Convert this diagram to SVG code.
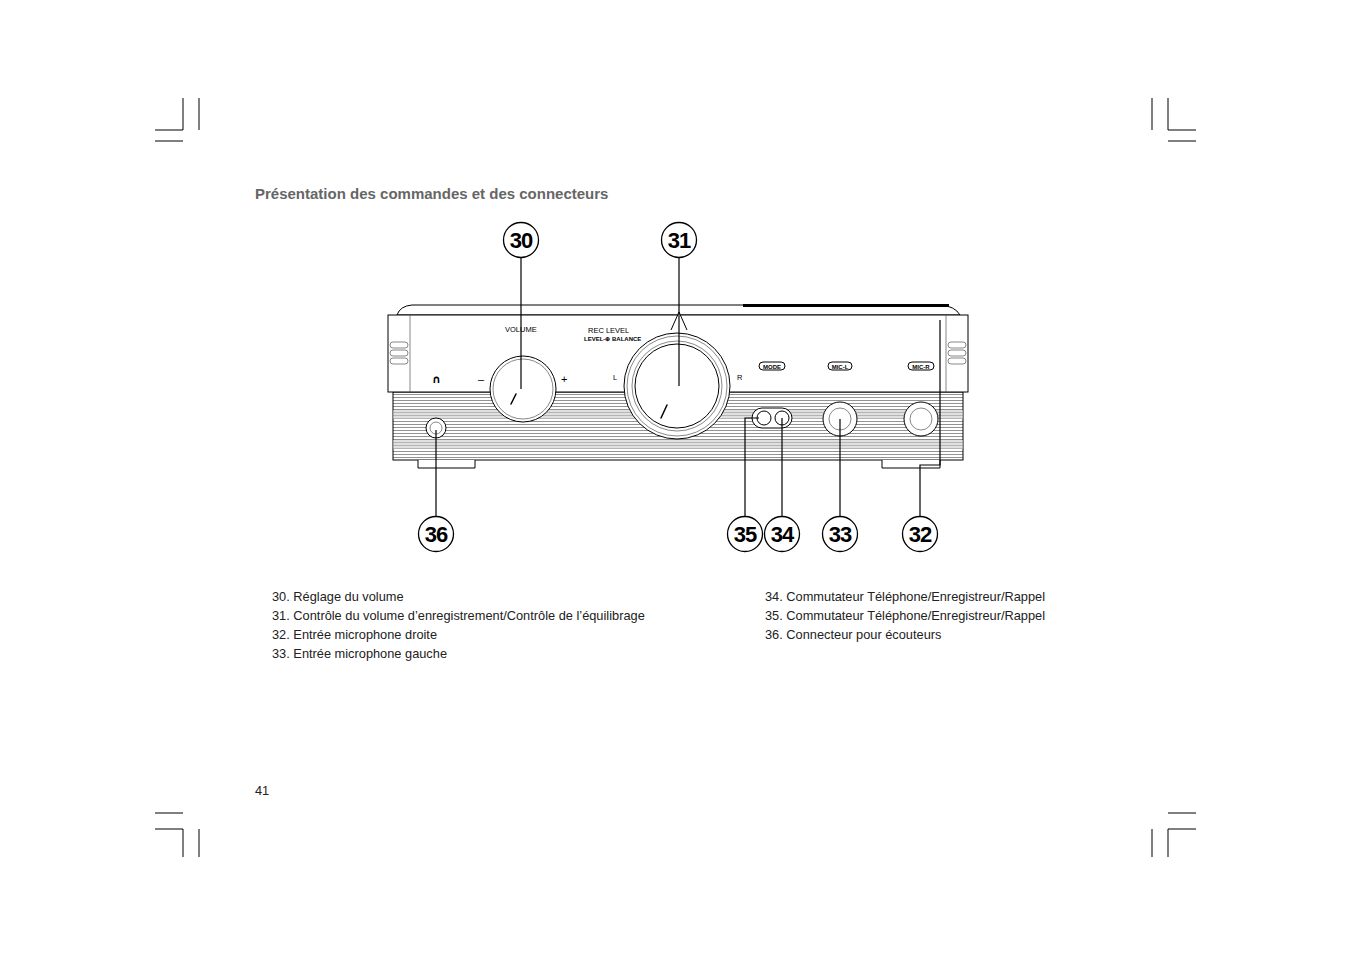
<svg xmlns="http://www.w3.org/2000/svg" width="1351" height="954" viewBox="0 0 1351 954">
<style>
.crop{stroke:#000;stroke-width:1;fill:none}
.ln{stroke:#000;stroke-width:1.2;fill:none}
.dv{stroke:#000;stroke-width:1;fill:#fff}
.thin{stroke:#555;stroke-width:0.7;fill:none}
.co{fill:#fff;stroke:#000;stroke-width:1.3}
.cn{font-family:"Liberation Sans",Arial,sans-serif;font-weight:bold;font-size:22px;text-anchor:middle;letter-spacing:-1px}
.t{font-family:"Liberation Sans",Arial,sans-serif;font-size:12.8px;fill:#222}
.s{font-family:"Liberation Sans",Arial,sans-serif;font-size:7.5px;fill:#000}
.sb{font-family:"Liberation Sans",Arial,sans-serif;font-size:6px;font-weight:bold;fill:#000}
</style>
<defs>
<pattern id="grill" width="4" height="3" patternUnits="userSpaceOnUse"><rect width="4" height="3" fill="#fff"/><line x1="0" y1="1.5" x2="4" y2="1.5" stroke="#777" stroke-width="0.8"/></pattern>
</defs>
<rect width="1351" height="954" fill="#fff"/>
<g id="crops">
<path class="crop" d="M155 130H183V98M199 98V130M155 141H183"/>
<path class="crop" d="M1152 98V130M1168 98V130H1196M1168 141H1196"/>
<path class="crop" d="M155 813H183M155 829H183V857M199 829V857"/>
<path class="crop" d="M1168 813H1196M1152 829V857M1168 857V829H1196"/>
</g>
<text x="255" y="199" style="font-family:'Liberation Sans',Arial,sans-serif;font-weight:bold;font-size:15px;fill:#666">Présentation des commandes et des connecteurs</text>
<g id="device">
<path class="dv" d="M397 315 Q400 306 412 305 H940 Q955 306 960 315 Z"/>
<rect x="743" y="304" width="206" height="3" fill="#000"/>
<rect x="393" y="392" width="570" height="68" fill="url(#grill)" stroke="#000" stroke-width="1"/>
<rect x="393" y="410" width="570" height="9" fill="#ccc" opacity="0.6"/>
<rect x="393" y="440" width="570" height="9" fill="#ccc" opacity="0.6"/>
<rect x="388" y="315" width="580" height="77" class="dv"/>
<line x1="410" y1="315" x2="410" y2="392" class="thin"/>
<line x1="946" y1="315" x2="946" y2="392" class="thin"/>
<path class="dv" d="M418 460V468H475V460M882 460V468H940V460"/>
<g class="thin"><rect x="390" y="342" width="18" height="6" rx="3"/><rect x="390" y="350" width="18" height="6" rx="3"/><rect x="390" y="358" width="18" height="6" rx="3"/>
<rect x="948" y="342" width="18" height="6" rx="3"/><rect x="948" y="350" width="18" height="6" rx="3"/><rect x="948" y="358" width="18" height="6" rx="3"/></g>
<text x="505" y="332" class="s">VOLUME</text>
<text x="588" y="333" class="s">REC LEVEL</text>
<text x="584" y="341" class="sb">LEVEL-⊕ BALANCE</text>
<text x="432" y="383" style="font-family:'DejaVu Sans',sans-serif;font-size:11px;font-weight:bold">∩</text>
<text x="478" y="383" class="s" style="font-size:11px">–</text>
<text x="561" y="383" class="s" style="font-size:11px">+</text>
<text x="613" y="380" class="s">L</text>
<text x="737" y="380" class="s">R</text>
<rect x="759" y="362" width="26" height="8" rx="4" class="dv"/><text x="772" y="368.5" class="sb" text-anchor="middle">MODE</text>
<rect x="828" y="362" width="24" height="8" rx="4" class="dv"/><text x="840" y="368.5" class="sb" text-anchor="middle">MIC-L</text>
<rect x="908" y="362" width="26" height="8" rx="4" class="dv"/><text x="921" y="368.5" class="sb" text-anchor="middle">MIC-R</text>
<circle cx="523" cy="389" r="33" class="dv"/><circle cx="523" cy="389" r="30" class="thin"/>
<path d="M511 404l5-10" stroke="#000" stroke-width="1.5" stroke-linecap="round"/>
<path d="M671 330 L679 312 L687 330" class="dv"/>
<circle cx="677" cy="386" r="53" class="dv"/><circle cx="677" cy="386" r="50" class="thin"/><circle cx="677" cy="386" r="45" class="thin"/><circle cx="677" cy="386" r="42" class="dv"/>
<path d="M661 418l6-13" stroke="#000" stroke-width="1.5" stroke-linecap="round"/>
<circle cx="436" cy="428" r="10" class="dv"/><circle cx="436" cy="428" r="6" class="thin"/>
<rect x="752" y="408" width="40" height="20" rx="10" class="dv"/>
<circle cx="764" cy="418" r="7" class="dv" stroke-width="1.6"/><circle cx="782" cy="418" r="7" class="dv" stroke-width="1.6"/>
<circle cx="840" cy="419" r="17" class="dv"/><circle cx="840" cy="419" r="11" class="thin"/>
<circle cx="921" cy="419" r="17" class="dv"/><circle cx="921" cy="419" r="11" class="thin"/>
</g>
<g id="connectors" class="ln">
<path d="M521 257V389"/>
<path d="M679 257V386"/>
<path d="M436 517V430"/>
<path d="M745 517V418H759"/>
<path d="M782 517V418"/>
<path d="M840 517V419"/>
<path d="M920 517V465H940V320"/>
</g>
<g id="callouts">
<g id="c30"><circle cx="521" cy="240" r="17.5" class="co"/><text x="521" y="248" class="cn">30</text></g>
<g id="c31"><circle cx="679" cy="240" r="17.5" class="co"/><text x="679" y="248" class="cn">31</text></g>
<g id="c36"><circle cx="436" cy="534" r="17.5" class="co"/><text x="436" y="542" class="cn">36</text></g>
<g id="c35"><circle cx="745" cy="534" r="17.5" class="co"/><text x="745" y="542" class="cn">35</text></g>
<g id="c34"><circle cx="782" cy="534" r="17.5" class="co"/><text x="782" y="542" class="cn">34</text></g>
<g id="c33"><circle cx="840" cy="534" r="17.5" class="co"/><text x="840" y="542" class="cn">33</text></g>
<g id="c32"><circle cx="920" cy="534" r="17.5" class="co"/><text x="920" y="542" class="cn">32</text></g>
</g>
<g id="legend">
<text x="272" y="601" class="t">30. Réglage du volume</text>
<text x="272" y="620" class="t">31. Contrôle du volume d’enregistrement/Contrôle de l’équilibrage</text>
<text x="272" y="639" class="t">32. Entrée microphone droite</text>
<text x="272" y="658" class="t">33. Entrée microphone gauche</text>
<text x="765" y="601" class="t">34. Commutateur Téléphone/Enregistreur/Rappel</text>
<text x="765" y="620" class="t">35. Commutateur Téléphone/Enregistreur/Rappel</text>
<text x="765" y="639" class="t">36. Connecteur pour écouteurs</text>
</g>
<text x="255" y="795" class="t">41</text>
</svg>
